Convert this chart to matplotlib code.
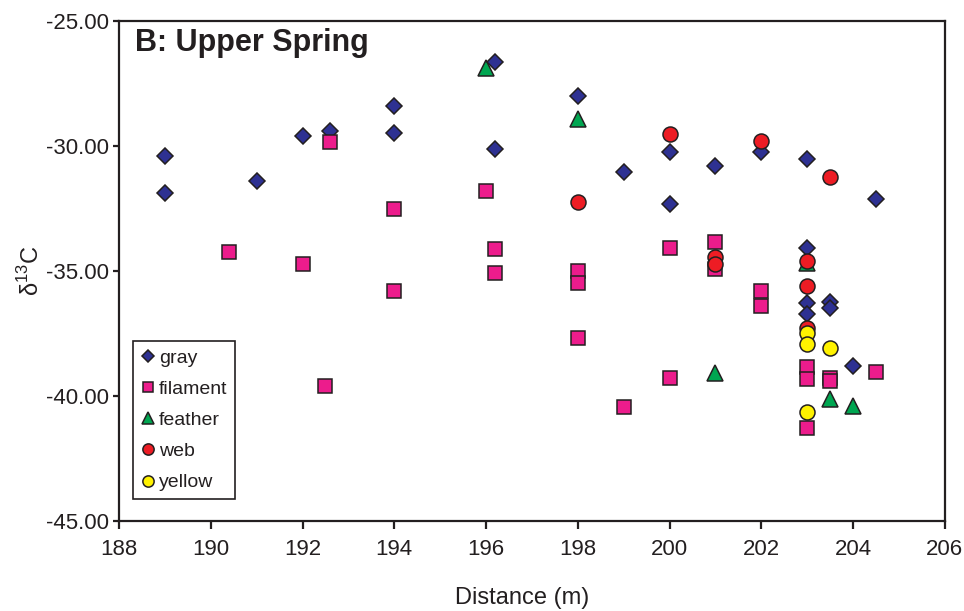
import matplotlib
matplotlib.use("Agg")
import matplotlib.pyplot as plt
from matplotlib.ticker import FormatStrFormatter

plt.rcParams['font.family'] = ['Liberation Sans', 'DejaVu Sans']
plt.rcParams['mathtext.fontset'] = 'custom'
plt.rcParams['mathtext.rm'] = 'Liberation Sans'

# values: distance (m) and delta 13C
gray_x = [189, 189, 191, 192, 192.6, 194, 194, 196.2, 196.2, 198, 199, 200, 200,
          201, 202, 203, 203, 203, 203, 203.5, 203.5, 204, 204.5]
gray_y = [-30.4, -31.9, -31.4, -29.6, -29.4, -28.4, -29.5, -26.65, -30.15, -28.0,
          -31.05, -30.25, -32.35, -30.8, -30.25, -30.55, -34.1, -36.3, -36.75,
          -36.25, -36.5, -38.8, -32.15]

filament_x = [190.4, 192, 192.5, 192.6, 194, 194, 196, 196.2, 196.2, 198, 198, 198,
              199, 200, 200, 201, 201, 202, 202, 203, 203, 203, 203.5, 203.5, 204.5]
filament_y = [-34.25, -34.75, -39.6, -29.85, -32.55, -35.8, -31.8, -34.15, -35.1,
              -35.0, -35.5, -37.7, -40.45, -34.1, -39.3, -33.85, -34.95, -35.8,
              -36.4, -38.85, -39.35, -41.3, -39.3, -39.4, -39.05]

feather_x = [196, 198, 201, 203, 203.5, 204]
feather_y = [-26.9, -28.95, -39.1, -34.7, -40.15, -40.4]

web_x = [198, 200, 201, 201, 202, 203, 203, 203, 203.5]
web_y = [-32.25, -29.55, -34.45, -34.75, -29.8, -34.6, -35.6, -37.3, -31.25]

yellow_x = [203, 203, 203, 203.5]
yellow_y = [-37.5, -37.95, -40.65, -38.1]

edge = '#231f20'
fig = plt.figure(figsize=(9.64, 6.11), dpi=100)
ax = fig.add_axes([0.1234, 0.1478, 0.8568, 0.8183])

ax.plot(gray_x, gray_y, 'D', ms=8.2, mfc='#2e3192', mec=edge, mew=1.1, ls='none',
        zorder=3, label='gray')
ax.plot(filament_x, filament_y, 's', ms=10.5, mfc='#ec1c8c', mec=edge, mew=1.1,
        ls='none', zorder=4, label='filament')
ax.plot(feather_x, feather_y, '^', ms=11.5, mfc='#00a651', mec=edge, mew=1.1,
        ls='none', zorder=2, label='feather')
ax.plot(web_x, web_y, 'o', ms=10.8, mfc='#ed1c24', mec=edge, mew=1.1, ls='none',
        zorder=5, label='web')
ax.plot(yellow_x, yellow_y, 'o', ms=10.8, mfc='#fff200', mec=edge, mew=1.1,
        ls='none', zorder=6, label='yellow')

ax.set_xlim(188, 206)
ax.set_ylim(-45, -25)
ax.set_xticks(range(188, 207, 2))
ax.set_yticks([-45, -40, -35, -30, -25])
ax.yaxis.set_major_formatter(FormatStrFormatter('%.2f'))

for s in ax.spines.values():
    s.set_linewidth(1.6)
    s.set_color(edge)
ax.tick_params(axis='y', direction='out', length=4, width=1.6, pad=3.5,
               labelsize=16, colors=edge)
ax.tick_params(axis='x', direction='out', length=5.5, width=1.6, pad=8,
               labelsize=16, colors=edge)

ax.set_xlabel('Distance (m)', fontsize=17, color=edge, labelpad=19)
ax.xaxis.label.set_x(0.488)
ax.set_ylabel('δ$^{\\mathregular{13}}$C', fontsize=17, color=edge, labelpad=1)

ax.text(0.02, 0.985, 'B: Upper Spring', transform=ax.transAxes, fontsize=22,
        fontweight='bold', color=edge, va='top', ha='left')

leg = ax.legend(loc='lower left', bbox_to_anchor=(0.0166, 0.043), fontsize=14,
                markerscale=0.75, handlelength=0.8, handletextpad=0.15,
                labelspacing=0.7, borderpad=0.4, borderaxespad=0,
                fancybox=False, framealpha=1, edgecolor=edge)
leg.get_frame().set_linewidth(1.2)
for t in leg.get_texts():
    t.set_color(edge)

fig.savefig('out.png', dpi=100)
